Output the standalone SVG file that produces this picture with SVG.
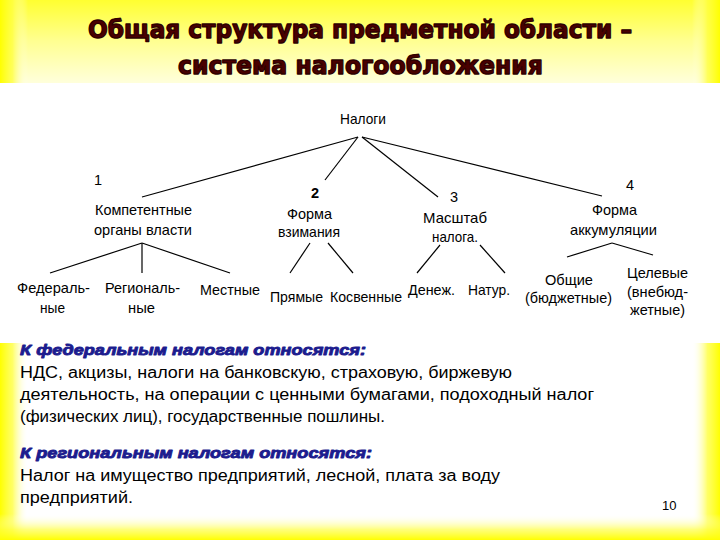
<svg xmlns="http://www.w3.org/2000/svg" width="720" height="540" viewBox="0 0 720 540">
<defs>
<linearGradient id="gTop" x1="0" y1="0" x2="0" y2="1">
<stop offset="0" stop-color="#FFFF30"/>
<stop offset="0.45" stop-color="#FFFF90"/>
<stop offset="1" stop-color="#FFFFE8"/>
</linearGradient>
<linearGradient id="gLeft" x1="0" y1="0" x2="1" y2="0">
<stop offset="0" stop-color="#FFFF00" stop-opacity="1"/>
<stop offset="0.45" stop-color="#FFFF40" stop-opacity="0.8"/>
<stop offset="1" stop-color="#FFFFFF" stop-opacity="0"/>
</linearGradient>
<linearGradient id="gRight" x1="1" y1="0" x2="0" y2="0">
<stop offset="0" stop-color="#FFFF00" stop-opacity="1"/>
<stop offset="0.45" stop-color="#FFFF40" stop-opacity="0.8"/>
<stop offset="1" stop-color="#FFFFFF" stop-opacity="0"/>
</linearGradient>
<linearGradient id="gBottom" x1="0" y1="1" x2="0" y2="0">
<stop offset="0" stop-color="#FFFF00" stop-opacity="1"/>
<stop offset="0.4" stop-color="#FFFF40" stop-opacity="0.7"/>
<stop offset="1" stop-color="#FFFFFF" stop-opacity="0"/>
</linearGradient>
<style>
.title{font-family:"DejaVu Sans","Liberation Sans",sans-serif;font-weight:bold;font-size:25px;fill:#4a0000;stroke:#2e0000;stroke-width:1.4;stroke-linejoin:round}
.n{font-family:"Liberation Sans",Arial,sans-serif;font-size:14.5px;fill:#000}
.num{font-family:"Liberation Sans",Arial,sans-serif;font-size:14.5px;fill:#000}
.hd{font-family:"Liberation Sans",Arial,sans-serif;font-size:15px;font-weight:bold;font-style:italic;fill:#1c1c8e;stroke:#1c1c8e;stroke-width:0.9;stroke-linejoin:round}
.body{font-family:"Liberation Sans",Arial,sans-serif;font-size:16px;fill:#000}
.pg{font-family:"Liberation Sans",Arial,sans-serif;font-size:13px;fill:#000}
.conn line{stroke:#000;stroke-width:1.2}
</style>
</defs>
<rect x="0" y="0" width="720" height="540" fill="#FFFFFF"/>
<rect x="0" y="0" width="720" height="90" fill="url(#gTop)"/>
<rect x="0" y="0" width="28" height="540" fill="url(#gLeft)"/>
<rect x="692" y="0" width="28" height="540" fill="url(#gRight)"/>
<rect x="0" y="514" width="720" height="26" fill="url(#gBottom)"/>
<rect x="0" y="83" width="720" height="260" fill="#FFFFFF"/>

<g id="title">
<text class="title" x="88" y="38" textLength="544" lengthAdjust="spacingAndGlyphs">Общая структура предметной области –</text>
<text class="title" x="178" y="74" textLength="365" lengthAdjust="spacingAndGlyphs">система налогообложения</text>
</g>

<g id="connectors" class="conn">
<line x1="358" y1="137" x2="142" y2="197"/>
<line x1="358" y1="137" x2="325" y2="180"/>
<line x1="362" y1="137" x2="438" y2="197"/>
<line x1="362" y1="137" x2="602" y2="196"/>
<line x1="142" y1="243" x2="50" y2="273"/>
<line x1="142" y1="243" x2="142" y2="273"/>
<line x1="142" y1="243" x2="230" y2="273"/>
<line x1="310" y1="243" x2="290" y2="273"/>
<line x1="328" y1="243" x2="353" y2="273"/>
<line x1="440" y1="245" x2="417" y2="273"/>
<line x1="480" y1="245" x2="505" y2="273"/>
<line x1="612" y1="243" x2="567" y2="257"/>
<line x1="612" y1="243" x2="653" y2="255"/>
</g>

<g id="node-nalogi"><text class="n" x="340" y="124" textLength="46" lengthAdjust="spacingAndGlyphs">Налоги</text></g>
<g id="node-1">
<text class="num" x="94" y="185">1</text>
<text class="n" x="95" y="215" textLength="97" lengthAdjust="spacingAndGlyphs">Компетентные</text>
<text class="n" x="94" y="235" textLength="98" lengthAdjust="spacingAndGlyphs">органы власти</text>
</g>
<g id="node-2">
<text class="num" x="311" y="198" font-weight="bold">2</text>
<text class="n" x="287" y="219" textLength="45" lengthAdjust="spacingAndGlyphs">Форма</text>
<text class="n" x="278" y="237" textLength="62" lengthAdjust="spacingAndGlyphs">взимания</text>
</g>
<g id="node-3">
<text class="num" x="450" y="202">3</text>
<text class="n" x="423" y="223" textLength="64" lengthAdjust="spacingAndGlyphs">Масштаб</text>
<text class="n" x="432" y="242" textLength="46" lengthAdjust="spacingAndGlyphs">налога.</text>
</g>
<g id="node-4">
<text class="num" x="626" y="190">4</text>
<text class="n" x="592" y="215" textLength="45" lengthAdjust="spacingAndGlyphs">Форма</text>
<text class="n" x="570" y="235" textLength="87" lengthAdjust="spacingAndGlyphs">аккумуляции</text>
</g>
<g id="node-federal">
<text class="n" x="17" y="293" textLength="73" lengthAdjust="spacingAndGlyphs">Федераль-</text>
<text class="n" x="40" y="313" textLength="25" lengthAdjust="spacingAndGlyphs">ные</text>
</g>
<g id="node-regional">
<text class="n" x="105" y="293" textLength="75" lengthAdjust="spacingAndGlyphs">Региональ-</text>
<text class="n" x="128" y="313" textLength="27" lengthAdjust="spacingAndGlyphs">ные</text>
</g>
<g id="node-local"><text class="n" x="200" y="295" textLength="60" lengthAdjust="spacingAndGlyphs">Местные</text></g>
<g id="node-direct"><text class="n" x="270" y="302" textLength="53" lengthAdjust="spacingAndGlyphs">Прямые</text></g>
<g id="node-indirect"><text class="n" x="330" y="302" textLength="72" lengthAdjust="spacingAndGlyphs">Косвенные</text></g>
<g id="node-money"><text class="n" x="408" y="295" textLength="47" lengthAdjust="spacingAndGlyphs">Денеж.</text></g>
<g id="node-natural"><text class="n" x="468" y="295" textLength="42" lengthAdjust="spacingAndGlyphs">Натур.</text></g>
<g id="node-general">
<text class="n" x="545" y="285" textLength="48" lengthAdjust="spacingAndGlyphs">Общие</text>
<text class="n" x="525" y="303" textLength="87" lengthAdjust="spacingAndGlyphs">(бюджетные)</text>
</g>
<g id="node-target">
<text class="n" x="627" y="278" textLength="61" lengthAdjust="spacingAndGlyphs">Целевые</text>
<text class="n" x="627" y="297" textLength="61" lengthAdjust="spacingAndGlyphs">(внебюд-</text>
<text class="n" x="630" y="315" textLength="55" lengthAdjust="spacingAndGlyphs">жетные)</text>
</g>

<g id="text-federal">
<text class="hd" x="20" y="355" textLength="346" lengthAdjust="spacingAndGlyphs">К федеральным налогам относятся:</text>
<text class="body" x="20" y="378" textLength="492" lengthAdjust="spacingAndGlyphs">НДС, акцизы, налоги на банковскую, страховую, биржевую</text>
<text class="body" x="20" y="400" textLength="574" lengthAdjust="spacingAndGlyphs">деятельность, на операции с ценными бумагами, подоходный налог</text>
<text class="body" x="20" y="422" textLength="365" lengthAdjust="spacingAndGlyphs">(физических лиц), государственные пошлины.</text>
</g>
<g id="text-regional">
<text class="hd" x="20" y="458" textLength="352" lengthAdjust="spacingAndGlyphs">К региональным налогам относятся:</text>
<text class="body" x="20" y="481" textLength="480" lengthAdjust="spacingAndGlyphs">Налог на имущество предприятий, лесной, плата за воду</text>
<text class="body" x="20" y="503" textLength="113" lengthAdjust="spacingAndGlyphs">предприятий.</text>
</g>
<g id="page-number"><text class="pg" x="662" y="510">10</text></g>
</svg>
